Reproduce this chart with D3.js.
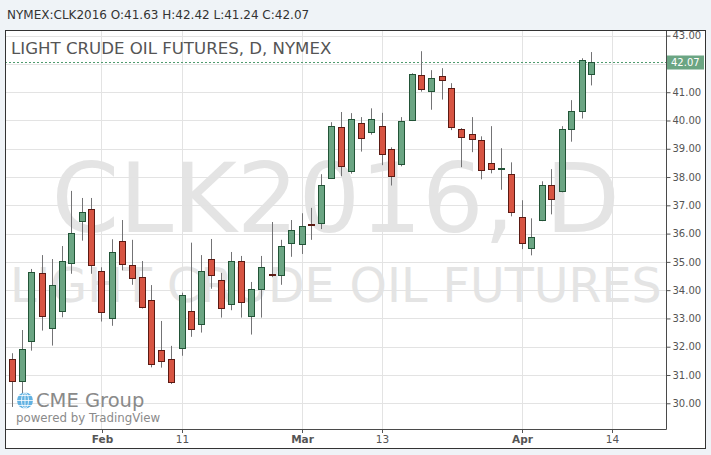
<!DOCTYPE html>
<html><head><meta charset="utf-8">
<script src="https://cdn.jsdelivr.net/npm/d3@7"></script>
<style>
html,body{margin:0;padding:0;background:#eff3f7;}
svg{display:block;font-family:"DejaVu Sans",sans-serif;}
</style></head>
<body><svg id="c" width="711" height="455"></svg>
<script>
// ---- data ----
const dates = ["2016-01-19","2016-01-20","2016-01-21","2016-01-22","2016-01-25","2016-01-26","2016-01-27","2016-01-28","2016-01-29",
"2016-02-01","2016-02-02","2016-02-03","2016-02-04","2016-02-05","2016-02-08","2016-02-09","2016-02-10","2016-02-11","2016-02-12",
"2016-02-16","2016-02-17","2016-02-18","2016-02-19","2016-02-22","2016-02-23","2016-02-24","2016-02-25","2016-02-26","2016-02-29",
"2016-03-01","2016-03-02","2016-03-03","2016-03-04","2016-03-07","2016-03-08","2016-03-09","2016-03-10","2016-03-11","2016-03-14",
"2016-03-15","2016-03-16","2016-03-17","2016-03-18","2016-03-21","2016-03-22","2016-03-23","2016-03-24","2016-03-28","2016-03-29",
"2016-03-30","2016-03-31","2016-04-01","2016-04-04","2016-04-05","2016-04-06","2016-04-07","2016-04-08","2016-04-11","2016-04-12"];
const open  = [31.56,30.80,32.19,34.60,32.65,33.25,34.95,36.44,36.88,34.67,33.01,35.73,34.88,34.48,33.64,31.87,31.56,31.94,33.25,32.79,
35.09,34.35,33.50,35.02,33.08,34.03,34.58,34.53,35.66,35.62,36.33,36.37,37.96,39.76,38.21,39.90,39.59,39.80,38.98,38.45,
40.01,41.60,41.04,41.57,41.14,39.69,39.51,39.30,38.49,38.29,38.10,36.58,35.48,36.47,37.71,37.50,39.69,40.33,41.63];
const high  = [31.77,32.59,34.75,35.24,35.10,35.56,37.51,37.26,37.26,34.81,35.80,36.48,35.78,35.03,34.18,32.91,32.03,33.91,35.68,35.24,
35.81,34.61,35.35,35.21,34.29,35.21,36.41,35.78,36.48,36.72,36.91,38.10,39.94,40.30,40.26,40.12,40.43,40.27,39.05,40.12,
41.67,42.45,41.78,41.85,41.32,39.73,40.12,39.44,39.80,39.02,38.52,37.18,36.54,37.85,38.28,39.80,40.72,42.20,42.42];
const low   = [29.87,30.29,31.86,32.57,32.04,33.04,34.58,35.75,34.58,32.89,32.74,34.70,34.19,33.35,31.27,31.26,30.68,31.68,32.35,32.50,
34.05,33.03,33.29,33.03,32.43,33.03,34.46,34.19,35.18,35.28,35.78,36.16,37.93,38.03,38.12,38.90,39.50,38.42,37.70,38.38,
39.98,41.02,40.38,40.74,39.66,38.35,38.88,37.92,38.13,37.55,36.61,35.45,35.23,36.44,36.68,37.46,39.25,40.07,41.24];
const close = [30.80,31.91,34.63,33.08,34.17,35.03,36.01,36.76,34.88,33.22,35.35,34.92,34.42,33.39,31.39,31.49,30.74,33.82,32.62,34.67,
34.53,33.36,35.02,33.57,34.03,34.81,34.56,35.55,36.12,36.26,36.31,37.71,39.80,38.38,40.04,39.37,40.04,38.81,38.03,39.97,
41.64,41.11,41.50,41.42,39.76,39.41,39.34,38.24,38.28,38.31,36.76,35.66,35.87,37.71,37.22,39.69,40.33,42.13,42.07];
const priceTicks = [30,31,32,33,34,35,36,37,38,39,40,41,42,43];
const timeTickIndex = [9,17,29,37,51,60];
const timeTickLabels = ["Feb","11","Mar","13","Apr","14"];
const symbol = "NYMEX:CLK2016";
const title = "LIGHT CRUDE OIL FUTURES, D, NYMEX";
const watermark1 = "CLK2016, D";
const watermark2 = "LIGHT CRUDE OIL FUTURES";

// ---- layout ----
const svg = d3.select("#c");
const box = {x0:5, y0:30, x1:706, y1:449};
const plot = {x0:5, y0:30, x1:666.5, y1:429};

const x = d3.scaleLinear().domain([-0.65, 65.5]).range([plot.x0, plot.x1]);
const y = d3.scaleLinear().domain([29.09, 43.20]).range([plot.y1, plot.y0]);

const defs = svg.append("defs");
defs.append("clipPath").attr("id","boxclip").append("rect")
  .attr("x",box.x0).attr("y",box.y0).attr("width",box.x1-box.x0).attr("height",box.y1-box.y0);
defs.append("clipPath").attr("id","plotclip").append("rect")
  .attr("x",plot.x0).attr("y",plot.y0).attr("width",plot.x1-plot.x0).attr("height",plot.y1-plot.y0);

// header
const last = close.length-1;
svg.append("text").attr("x",7).attr("y",19).attr("font-size",12).attr("fill","#333")
  .text(`${symbol} O:${open[last].toFixed(2)} H:${high[last].toFixed(2)} L:${low[last].toFixed(2)} C:${close[last].toFixed(2)}`);

// white box
svg.append("rect").attr("x",box.x0).attr("y",box.y0).attr("width",box.x1-box.x0).attr("height",box.y1-box.y0)
  .attr("fill","#fff");

const pg = svg.append("g").attr("clip-path","url(#plotclip)");
const cx = (plot.x0+plot.x1)/2;
pg.append("text").attr("x",cx).attr("y",232).attr("text-anchor","middle")
  .attr("font-size",97).attr("fill","#e4e4e4").text(watermark1);
pg.append("text").attr("x",cx).attr("y",302).attr("text-anchor","middle")
  .attr("font-size",47.5).attr("fill","#e4e4e4").text(watermark2);

// grid
const crisp = v => Math.round(v)+0.5;
pg.selectAll("line.hg").data(priceTicks).join("line").attr("class","hg")
  .attr("x1",plot.x0).attr("x2",plot.x1).attr("y1",d=>crisp(y(d))).attr("y2",d=>crisp(y(d)))
  .attr("stroke","#e3e3e3");
pg.selectAll("line.vg").data(timeTickIndex).join("line").attr("class","vg")
  .attr("y1",plot.y0).attr("y2",plot.y1).attr("x1",d=>crisp(x(d))).attr("x2",d=>crisp(x(d)))
  .attr("stroke","#e3e3e3");

// title
svg.append("text").attr("x",11).attr("y",54).attr("font-size",16.6).attr("fill","#555").text(title);

// last price line
pg.append("line").attr("x1",plot.x0).attr("x2",plot.x1)
  .attr("y1",crisp(y(close[last]))).attr("y2",crisp(y(close[last])))
  .attr("stroke","#4f9b6e").attr("stroke-dasharray","2,2");

// logo
const lg = svg.append("g");
lg.append("circle").attr("cx",25).attr("cy",400.5).attr("r",8).attr("fill","#62b2e2");
[-5,0,5].forEach(o=>{
  lg.append("line").attr("x1",17).attr("x2",33).attr("y1",400.5+o).attr("y2",400.5+o).attr("stroke","#fff").attr("stroke-width",0.8);
});
lg.append("ellipse").attr("cx",25).attr("cy",400.5).attr("rx",3.5).attr("ry",8).attr("fill","none").attr("stroke","#fff").attr("stroke-width",0.8);
lg.append("line").attr("x1",25).attr("x2",25).attr("y1",392.5).attr("y2",408.5).attr("stroke","#fff").attr("stroke-width",0.8);
lg.append("text").attr("x",36).attr("y",407).attr("font-size",19.5).attr("fill","#8a8a8a").text("CME Group");
lg.append("text").attr("x",16).attr("y",422).attr("font-size",11.8).attr("fill","#8a8a8a").text("powered by TradingView");

// candles
const idx = d3.range(close.length);
const cg = pg.append("g");
cg.selectAll("line.wick").data(idx).join("line").attr("class","wick")
  .attr("x1",i=>crisp(x(i))).attr("x2",i=>crisp(x(i)))
  .attr("y1",i=>y(high[i])).attr("y2",i=>y(low[i]))
  .attr("stroke","#737375");
cg.selectAll("rect.body").data(idx).join("rect").attr("class","body")
  .attr("x",i=>crisp(x(i))-3).attr("width",6)
  .attr("y",i=>crisp(y(Math.max(open[i],close[i]))))
  .attr("height",i=>Math.max(1, crisp(y(Math.min(open[i],close[i]))) - crisp(y(Math.max(open[i],close[i])))))
  .attr("fill",i=>close[i]>=open[i]?"#6ba583":"#d75442")
  .attr("stroke",i=>close[i]>=open[i]?"#225437":"#5b1a13");

// axes (labels hidden where the last-price label sits)
const lastY = y(close[last]);
const shownTicks = priceTicks.filter(p => Math.abs(y(p) - lastY) > 12);
const ag = svg.append("g").attr("clip-path","url(#boxclip)");
const yAxis = d3.axisRight(y).tickValues(shownTicks).tickFormat(d=>d.toFixed(2)).tickSize(4).tickPadding(2);
const ya = ag.append("g").attr("transform",`translate(${plot.x1},0)`).call(yAxis);
ya.select(".domain").remove();
ya.selectAll(".tick line").attr("stroke","#555");
ya.selectAll(".tick text").attr("fill","#555").attr("font-size",10).attr("font-family","DejaVu Sans");
ag.append("line").attr("x1",666.5).attr("x2",666.5).attr("y1",plot.y0).attr("y2",plot.y1+0.5).attr("stroke","#4a4a4a");

const xAxis = d3.axisBottom(x).tickValues(timeTickIndex).tickFormat((d,i)=>timeTickLabels[i]).tickSize(4).tickPadding(3);
const xa = ag.append("g").attr("transform",`translate(0.5,${plot.y1})`).call(xAxis);
xa.select(".domain").remove();
xa.selectAll(".tick line").attr("stroke","#555");
xa.selectAll(".tick text").attr("fill","#555").attr("font-size",10.5).attr("font-family","DejaVu Sans")
  .attr("font-weight",(d,i)=>isNaN(+timeTickLabels[i])?"bold":"normal");
ag.append("line").attr("x1",plot.x0).attr("x2",666.5).attr("y1",plot.y1+0.5).attr("y2",plot.y1+0.5).attr("stroke","#4a4a4a");

// last price label
const ly = crisp(lastY);
svg.append("rect").attr("x",667).attr("y",ly-7).attr("width",37).attr("height",14).attr("fill","#6ba583");
svg.append("text").attr("x",671).attr("y",ly).attr("dy","0.35em").attr("font-size",10).attr("fill","#fff")
  .text(close[last].toFixed(2));

// outer border
svg.append("rect").attr("x",box.x0+0.5).attr("y",box.y0+0.5).attr("width",box.x1-box.x0-1).attr("height",box.y1-box.y0-1)
  .attr("fill","none").attr("stroke","#333");
</script></body></html>
